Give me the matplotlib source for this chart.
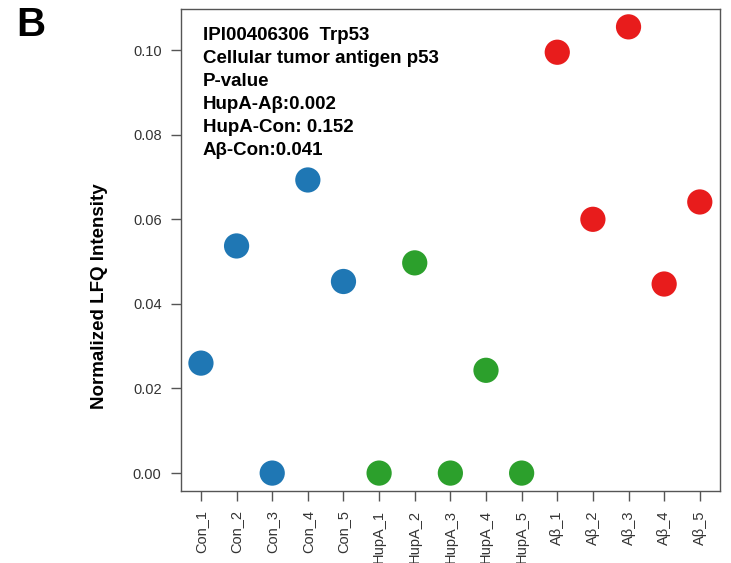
import matplotlib
matplotlib.use("Agg")
import numpy as np
from matplotlib import pyplot as plt

# sample names and normalized LFQ intensities
samples = ["Con_1", "Con_2", "Con_3", "Con_4", "Con_5",
           "HupA_1", "HupA_2", "HupA_3", "HupA_4", "HupA_5",
           "Aβ_1", "Aβ_2", "Aβ_3", "Aβ_4", "Aβ_5"]
con_vals = [0.0260, 0.0537, 0.0, 0.0693, 0.0453]
hupa_vals = [0.0, 0.0497, 0.0, 0.0243, 0.0]
abeta_vals = [0.0995, 0.0600, 0.1055, 0.0447, 0.0641]
group_colors = ["#1f77b4", "#2ca02c", "#e81c1c"]

info_lines = ["IPI00406306  Trp53",
              "Cellular tumor antigen p53",
              "P-value",
              "HupA-Aβ:0.002",
              "HupA-Con: 0.152",
              "Aβ-Con:0.041"]
yticks = [0.00, 0.02, 0.04, 0.06, 0.08, 0.10]

plt.rcParams['font.family'] = ['Liberation Sans', 'DejaVu Sans']

fig = plt.figure(figsize=(7.31, 5.63), dpi=100)
ax = fig.add_axes([0.2476, 0.128, 0.737, 0.856])

#draw each group with its own colour
x = np.arange(1, len(samples) + 1)
groups = [con_vals, hupa_vals, abeta_vals]
start = 0
for vals, col in zip(groups, group_colors):
    xs = x[start:start + len(vals)]
    ax.scatter(xs, vals, s=330, color=col, edgecolors='none', zorder=3)
    start += len(vals)

#R style 4% padding around the data range
all_vals = con_vals + hupa_vals + abeta_vals
ymin, ymax = min(all_vals), max(all_vals)
pad = 0.04 * (ymax - ymin)
ax.set_ylim(ymin - pad, ymax + pad)
xpad = 0.04 * (x[-1] - x[0])
ax.set_xlim(x[0] - xpad, x[-1] + xpad)

ax.set_xticks(x)
ax.set_xticklabels(samples, rotation=90, fontsize=10.5, color='#333333')
ax.set_yticks(yticks)
ax.set_yticklabels(["%.2f" % v for v in yticks], fontsize=10.5, color='#333333')
ax.tick_params(direction='out', length=7.5, width=1, color='#555555', pad=6.5)

for sp in ax.spines.values():
    sp.set_color('#555555')
    sp.set_linewidth(1)

ax.set_ylabel("Normalized LFQ Intensity", fontsize=13.5, fontweight='bold')
ax.yaxis.set_label_coords(-0.135, 0.405)

#annotation block in the upper left corner
for i, line in enumerate(info_lines):
    ax.text(0.04, 0.945 - i * 0.0477, line, transform=ax.transAxes,
            fontsize=13.5, fontweight='bold', va='center', ha='left')

fig.text(0.022, 0.955, "B", fontsize=29, fontweight='bold', va='center', ha='left')

fig.savefig("out.png", dpi=100)
